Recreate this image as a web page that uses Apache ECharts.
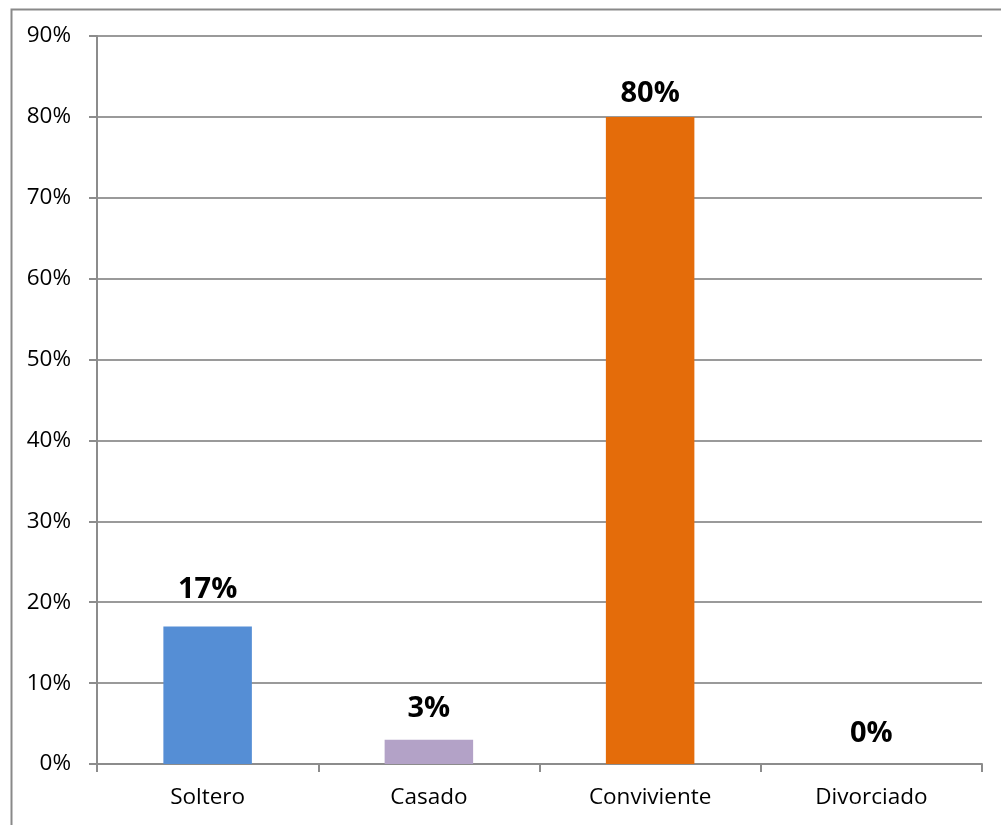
<!DOCTYPE html>
<html>
<head>
<meta charset="utf-8">
<script src="https://cdn.jsdelivr.net/npm/echarts@6/dist/echarts.min.js"></script>
<style>
html,body{margin:0;padding:0;background:#fff;}
#c{width:1001px;height:825px;}
</style>
</head>
<body>
<div id="c"></div>
<script>
const categories = ['Soltero', 'Casado', 'Conviviente', 'Divorciado'];
const values = [17, 3, 80, 0];
const yTicks = [0, 10, 20, 30, 40, 50, 60, 70, 80, 90];

const chart = echarts.init(document.getElementById('c'), null, {renderer: 'canvas'});
const font = '"Open Sans", sans-serif';
const barColors = ['#558ED5', '#B3A2C7', '#E46C0A', '#4F81BD'];
const labelGap = [22, 16, 9, 16];
chart.setOption({
  animation: false,
  backgroundColor: '#fff',
  graphic: [{
    type: 'rect', left: 9, top: 7, silent: true,
    shape: {width: 1010, height: 840},
    style: {fill: 'none', stroke: '#898989', lineWidth: 2}
  }],
  grid: {left: 97, right: 19, top: 36, bottom: 61, containLabel: false},
  xAxis: {
    type: 'category',
    data: categories,
    axisLine: {lineStyle: {color: '#8c8c8c', width: 2}},
    axisTick: {show: true, length: 8, lineStyle: {color: '#8c8c8c', width: 2}},
    axisLabel: {color: '#000', fontFamily: font, fontSize: 22.5, margin: 22}
  },
  yAxis: {
    type: 'value',
    min: yTicks[0], max: yTicks[yTicks.length - 1], interval: 10,
    axisLine: {show: true, lineStyle: {color: '#8c8c8c', width: 2}},
    axisTick: {show: true, length: 8, lineStyle: {color: '#8c8c8c', width: 2}},
    splitLine: {lineStyle: {color: '#9a9a9a', width: 2}},
    axisLabel: {color: '#000', fontFamily: font, fontSize: 22.5, margin: 26, formatter: v => v + '%'}
  },
  series: [{
    type: 'bar',
    data: values.map((v, i) => ({value: v, itemStyle: {color: barColors[i]}, label: {distance: labelGap[i]}})),
    barWidth: '40%',
    label: {
      show: true, position: 'top',
      formatter: p => p.value + '%',
      color: '#000', fontFamily: font, fontWeight: 'bold', fontSize: 29
    }
  }]
});
</script>
</body>
</html>
